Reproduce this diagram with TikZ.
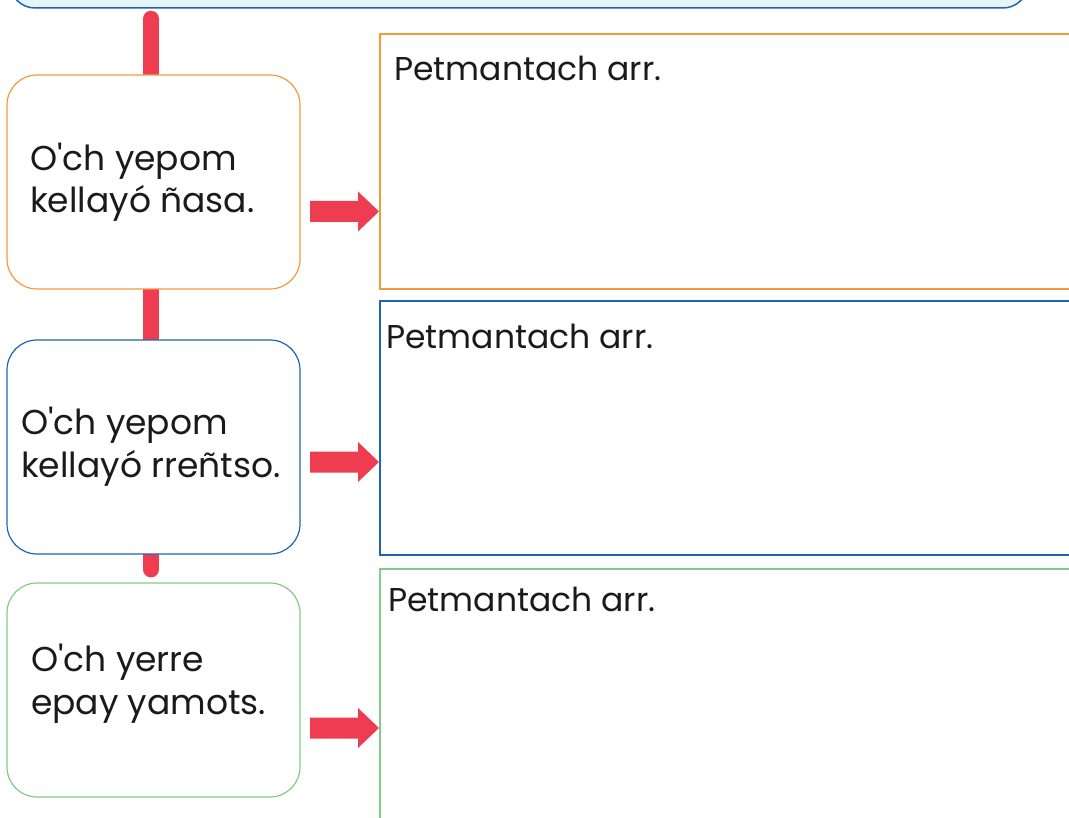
\documentclass[tikz,border=0pt]{standalone}
\usepackage{fontspec}
\setmainfont{Poppins}
\usetikzlibrary{backgrounds}
\definecolor{cOrange}{HTML}{F29B38}
\definecolor{cBlue}{HTML}{1E64B0}
\definecolor{cGreen}{HTML}{80CC84}
\definecolor{cRed}{HTML}{EE3C50}
\definecolor{cTopFill}{HTML}{E6F5FC}
\definecolor{cText}{HTML}{1A1A1A}
\newcommand{\ap}{\textquotesingle}
\begin{document}
\begin{tikzpicture}[x=1pt,y=-1pt,
  leftbox/.style={draw, line width=1.2pt, fill=white, rounded corners=30pt, minimum width=293pt, minimum height=214pt, inner sep=0pt},
  rightbox/.style={draw, line width=1.2pt, fill=white, rectangle, inner sep=0pt},
  lefttext/.style={anchor=base west, inner sep=0pt, text=cText, font=\fontsize{34.5}{40}\selectfont},
  righttext/.style={anchor=base west, inner sep=0pt, text=cText, font=\fontsize{33}{40}\selectfont},
  conn/.style={draw=cRed, line width=16pt},
  bigarrow/.style={fill=cRed, draw=none},
]
\useasboundingbox (0,0) rectangle (1069,818);

% top box (cut off by page edge)
\node[draw=cBlue, line width=1.5pt, fill=cTopFill, rounded corners=25pt, minimum width=1018pt, minimum height=80pt, inner sep=0pt] (top) at (519,-32) {};

% left boxes
\node[leftbox, draw=cOrange] (b1) at (153.5,182) {};
\node[leftbox, draw=cBlue]   (b2) at (153.5,447) {};
\node[leftbox, draw=cGreen]  (b3) at (153.5,690) {};

% right boxes
\node[rightbox, draw=cOrange, minimum width=720pt, minimum height=255pt] (r1) at (740,161.5) {};
\node[rightbox, draw=cBlue,   minimum width=720pt, minimum height=254pt] (r2) at (740,428) {};
\node[rightbox, draw=cGreen,  minimum width=720pt, minimum height=281pt] (r3) at (740,709.5) {};

% connectors behind the boxes
\begin{scope}[on background layer]
\draw[conn, line cap=round] ([xshift=-2.5pt,yshift=-10pt]top.south -| b1.north) -- ([xshift=-2.5pt,yshift=-8pt]b1.north);
\draw[conn] ([xshift=-2.5pt,yshift=4pt]b1.south) -- ([xshift=-2.5pt,yshift=-4pt]b2.north);
\draw[conn, line cap=round] ([xshift=-2.5pt,yshift=6pt]b2.south) -- ([xshift=-2.5pt,yshift=13pt]b3.north);
\end{scope}

% arrows (tail coordinates, then block arrow shapes)
\coordinate (a1) at (310,211.5);
\coordinate (a2) at (310,462);
\coordinate (a3) at (310,728);
\foreach \a in {a1,a2,a3}{
  \fill[bigarrow] (\a) ++(0,-10.5) -- ++(48,0) -- ++(0,-9.5) -- ++(21,20) -- ++(-21,20) -- ++(0,-9.5) -- ++(-48,0) -- cycle;
}

% left texts
\node[lefttext] (t1a) at (30,171) {O\ap ch yepom};
\node[lefttext] (t1b) at (30,213) {kellayó ñasa.};
\node[lefttext] (t2a) at (21,435) {O\ap ch yepom};
\node[lefttext] (t2b) at (21,477) {kellayó rreñtso.};
\node[lefttext] (t3a) at (31,671) {O\ap ch yerre};
\node[lefttext] (t3b) at (31,714) {epay yamots.};

% right texts
\node[righttext] (p1) at (394,81) {Petmantach arr.};
\node[righttext] (p2) at (386,349) {Petmantach arr.};
\node[righttext] (p3) at (388,611) {Petmantach arr.};
\end{tikzpicture}
\end{document}
